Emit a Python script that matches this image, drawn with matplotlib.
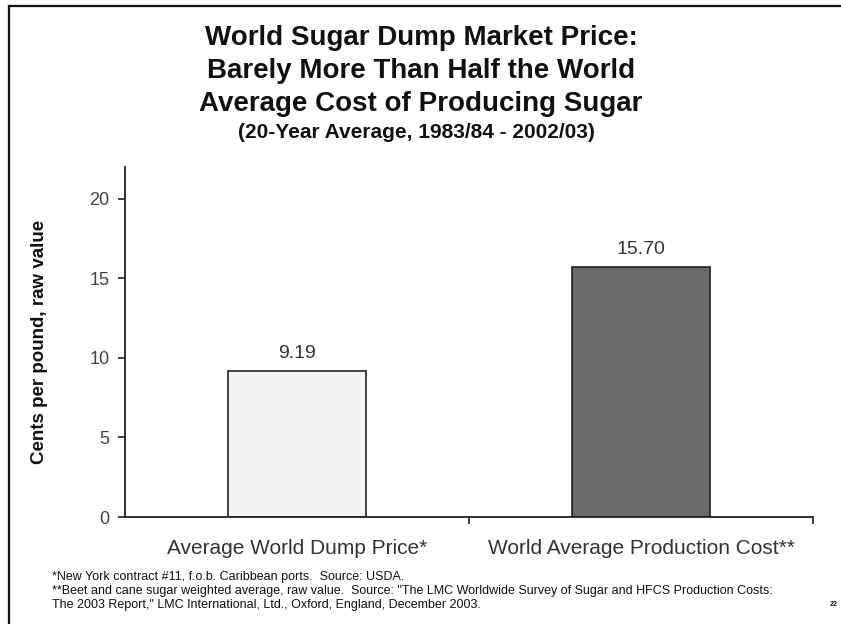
import matplotlib
matplotlib.use("Agg")
import matplotlib.pyplot as plt
from matplotlib.lines import Line2D

# data
categories = ["Average World Dump Price*", "World Average Production Cost**"]
values = [9.19, 15.70]
value_labels = ["9.19", "15.70"]
bar_colors = ["#f4f4f4", "#6a6a6a"]
yticks = [0, 5, 10, 15, 20]

title_lines = ["World Sugar Dump Market Price:",
               "Barely More Than Half the World",
               "Average Cost of Producing Sugar"]
subtitle = "(20-Year Average, 1983/84 - 2002/03)"
footnotes = [
    "*New York contract #11, f.o.b. Caribbean ports.  Source: USDA.",
    "**Beet and cane sugar weighted average, raw value.  Source: \"The LMC Worldwide Survey of Sugar and HFCS Production Costs:",
    "The 2003 Report,\" LMC International, Ltd., Oxford, England, December 2003.",
]

plt.rcParams["font.family"] = ["Liberation Sans", "DejaVu Sans"]

W, H = 841, 624
fig = plt.figure(figsize=(W / 100, H / 100), dpi=100)
ax = fig.add_axes([125 / W, 1 - 517 / H, (813 - 125) / W, (517 - 167) / H])

x = list(range(len(categories)))
ax.bar(x, values, width=0.40, color=bar_colors, edgecolor="#222222", linewidth=1.2, zorder=2)
for xi, v, lab in zip(x, values, value_labels):
    ax.text(xi, v + 0.55, lab, ha="center", va="bottom", fontsize=14, color="#333333")

ax.set_xlim(-0.5, 1.5)
ax.set_ylim(0, 22)
ax.set_yticks(yticks)
ax.set_yticklabels([str(t) for t in yticks], fontsize=13, color="#444444")

# category separators as major ticks, labels on minor ticks
ax.set_xticks([0.5, 1.5])
ax.set_xticklabels(["", ""])
ax.set_xticks(x, minor=True)
ax.set_xticklabels(categories, minor=True, fontsize=15, color="#333333")
ax.tick_params(axis="x", which="minor", length=0, pad=16)
ax.tick_params(axis="x", which="major", length=5, width=1.2, color="#222222", direction="out")
ax.tick_params(axis="y", length=5, width=1.2, color="#222222", direction="out", pad=6)

for side in ["top", "right"]:
    ax.spines[side].set_visible(False)
for side in ["left", "bottom"]:
    ax.spines[side].set_color("#222222")
    ax.spines[side].set_linewidth(1.3)

ax.set_ylabel("Cents per pound, raw value", fontsize=13.5, fontweight="bold", color="#111111",
              labelpad=30)

# titles
for i, line in enumerate(title_lines):
    fig.text(421 / W, 1 - (38 + 33 * i) / H, line, ha="center", va="center",
             fontsize=20, fontweight="bold", color="#111111")
fig.text(416 / W, 1 - 133 / H, subtitle, ha="center", va="center",
         fontsize=15, fontweight="bold", color="#111111")

# footnotes
for i, line in enumerate(footnotes):
    fig.text(52 / W, 1 - (577 + 14 * i) / H, line, ha="left", va="center",
             fontsize=9, color="#111111",
             family=["Liberation Sans Narrow", "Liberation Sans", "DejaVu Sans"])
fig.text(834 / W, 1 - 605 / H, "22", ha="center", va="center", fontsize=5,
         fontweight="bold", color="#111111")

# page frame (left and top edges)
fig.add_artist(Line2D([9 / W, 9 / W], [0, 1 - 6 / H], transform=fig.transFigure,
                      color="#111111", linewidth=1.6))
fig.add_artist(Line2D([9 / W, 1], [1 - 6 / H, 1 - 6 / H], transform=fig.transFigure,
                      color="#111111", linewidth=1.6))

fig.savefig("out.png", dpi=100)
